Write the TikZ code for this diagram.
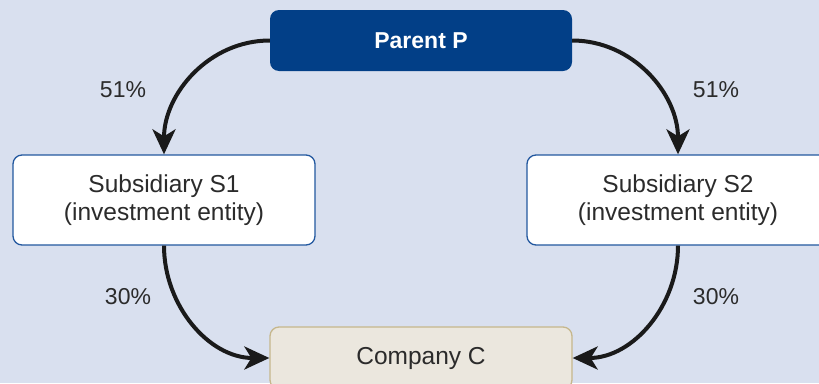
\documentclass[tikz,border=0pt]{standalone}
\usepackage{fontspec}
\setmainfont{Liberation Sans}
\usetikzlibrary{arrows.meta}
\definecolor{bgc}{HTML}{D9E0EF}
\definecolor{parentc}{HTML}{023F87}
\definecolor{subborder}{HTML}{23589F}
\definecolor{compfill}{HTML}{EBE7DE}
\definecolor{compborder}{HTML}{C6B78C}
\definecolor{txtc}{HTML}{2B2B2B}
\definecolor{arrc}{HTML}{1A1A1A}
\tikzset{
  box/.style={rectangle, rounded corners=9pt, minimum width=302pt, align=center,
    font=\fontsize{24.5}{28}\selectfont, text=txtc, inner sep=0pt},
  parentbox/.style={box, fill=parentc, draw=none, minimum height=61pt, text=white,
    font=\fontsize{23}{28}\selectfont\bfseries},
  subbox/.style={box, fill=white, draw=subborder, line width=1.3pt, minimum height=90pt},
  compbox/.style={box, fill=compfill, draw=compborder, line width=1.3pt, minimum height=62pt},
  conn/.style={draw=arrc, line width=4pt, -{Stealth[length=25pt,width=23pt,inset=7pt]}},
  pct/.style={font=\fontsize{23}{28}\selectfont, text=txtc, inner sep=0pt}
}
\begin{document}
\begin{tikzpicture}[x=1pt,y=1pt]
\fill[bgc] (0,0) rectangle (819,-383);
\useasboundingbox (0,0) rectangle (819,-383);
\node[parentbox] (P) at (421,-40.5) {Parent P};
\node[subbox] (S1) at (164,-200) {Subsidiary S1\\(investment entity)};
\node[subbox] (S2) at (678,-200) {Subsidiary S2\\(investment entity)};
\node[compbox] (C) at (421,-358) {Company C};
\draw[conn] (P.west) to[out=180,in=90] (S1.north);
\draw[conn] (P.east) to[out=0,in=90] (S2.north);
\draw[conn] (S1.south) to[out=-90,in=180] (C.west);
\draw[conn] (S2.south) to[out=-90,in=0] (C.east);
\node[pct] (l1) at (123,-90) {51\%};
\node[pct] (l2) at (716,-90) {51\%};
\node[pct] (l3) at (128,-297) {30\%};
\node[pct] (l4) at (716,-297) {30\%};
\end{tikzpicture}
\end{document}
